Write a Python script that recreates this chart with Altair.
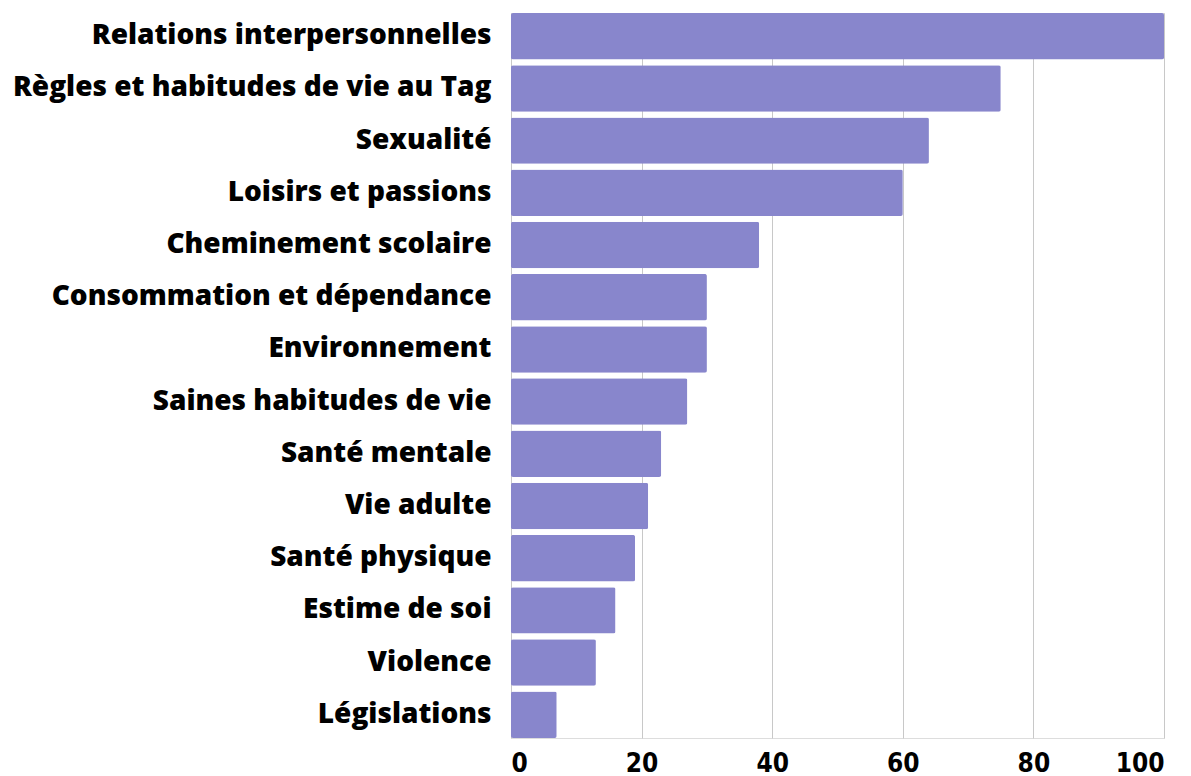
import altair as alt
import pandas as pd

categories = [
    "Relations interpersonnelles",
    "Règles et habitudes de vie au Tag",
    "Sexualité",
    "Loisirs et passions",
    "Cheminement scolaire",
    "Consommation et dépendance",
    "Environnement",
    "Saines habitudes de vie",
    "Santé mentale",
    "Vie adulte",
    "Santé physique",
    "Estime de soi",
    "Violence",
    "Législations",
]
values = [100, 75, 64, 60, 38, 30, 30, 27, 23, 21, 19, 16, 13, 7]
x_ticks = [0, 20, 40, 60, 80, 100]

df = pd.DataFrame({"cat": categories, "val": values})

chart = alt.Chart(df).mark_bar(
    color="#8886CC", cornerRadius=2
).encode(
    x=alt.X("val:Q", scale=alt.Scale(domain=[0, 100], nice=False),
            axis=alt.Axis(values=x_ticks, title=None, domain=False, ticks=False,
                          grid=True, gridColor="#C8C8C8", gridWidth=1,
                          labelFont="DejaVu Sans Condensed", labelFontSize=26,
                          labelFontWeight="bold", labelColor="#000000",
                          labelPadding=12)),
    y=alt.Y("cat:N", sort=categories, scale=alt.Scale(paddingInner=0.11, paddingOuter=0),
            axis=alt.Axis(title=None, domain=False, ticks=False, grid=False,
                          labelFont="Open Sans", labelFontSize=28,
                          labelFontWeight=800, labelColor="#000000",
                          labelPadding=20, labelLimit=600)),
).properties(
    width=653, height=725,
    autosize=alt.AutoSizeParams(type="none"),
    padding={"left": 511, "top": 13, "right": 27, "bottom": 38},
).configure_view(stroke=None).configure(background="#FFFFFF")

chart.save("out.html", embed_options={"renderer": "svg", "actions": False})
